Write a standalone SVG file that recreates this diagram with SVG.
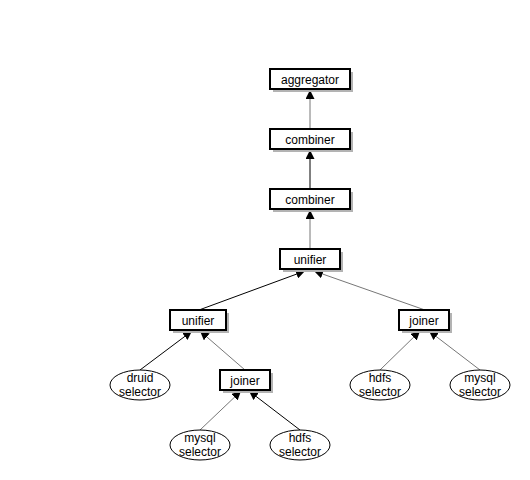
<svg xmlns="http://www.w3.org/2000/svg" width="530" height="480" viewBox="0 0 530 480">
<style>
.box{fill:#fff;stroke:#000;stroke-width:2}
.sh{fill:#b3b3b3}
.ell{fill:#fff;stroke:#000;stroke-width:1}
text{font-family:"Liberation Sans",Arial,sans-serif;font-size:12px;fill:#000;text-anchor:middle}
.e{fill:none;stroke-width:1}
.k{stroke:#000}
.g{stroke:#777}
</style>
<defs>
<marker id="ah" viewBox="0 0 10 10" refX="10" refY="5" markerWidth="9" markerHeight="9" markerUnits="userSpaceOnUse" orient="auto">
<path d="M0,0 L10,5 L0,10 z" fill="#000"/>
</marker>
</defs>
<rect width="530" height="480" fill="#fff"/>
<g id="connectors">
<line class="e g" x1="310" y1="129" x2="310" y2="90" marker-end="url(#ah)"/>
<line class="e k" x1="310" y1="189" x2="310" y2="150" marker-end="url(#ah)"/>
<line class="e g" x1="310" y1="249" x2="310" y2="210" marker-end="url(#ah)"/>
<line class="e k" x1="199" y1="310" x2="305" y2="271" marker-end="url(#ah)"/>
<line class="e g" x1="425" y1="310" x2="314" y2="271" marker-end="url(#ah)"/>
<line class="e k" x1="140" y1="370" x2="192" y2="331" marker-end="url(#ah)"/>
<line class="e g" x1="245" y1="370" x2="200" y2="331" marker-end="url(#ah)"/>
<line class="e g" x1="200" y1="430" x2="241" y2="391" marker-end="url(#ah)"/>
<line class="e k" x1="300" y1="430" x2="249" y2="391" marker-end="url(#ah)"/>
<line class="e g" x1="380" y1="370" x2="420" y2="331" marker-end="url(#ah)"/>
<line class="e g" x1="480" y1="370" x2="429" y2="331" marker-end="url(#ah)"/>
</g>
<g id="aggregator"><rect class="sh" x="273" y="72" width="80" height="20"/><rect class="box" x="270" y="69" width="80" height="20"/><text x="310" y="83.5">aggregator</text></g>
<g id="combiner1"><rect class="sh" x="273" y="132" width="80" height="20"/><rect class="box" x="270" y="129" width="80" height="20"/><text x="310" y="143.5">combiner</text></g>
<g id="combiner2"><rect class="sh" x="273" y="192" width="80" height="20"/><rect class="box" x="270" y="189" width="80" height="20"/><text x="310" y="203.5">combiner</text></g>
<g id="unifier-top"><rect class="sh" x="283" y="252" width="60" height="20"/><rect class="box" x="280" y="249" width="60" height="20"/><text x="310" y="263.5">unifier</text></g>
<g id="unifier-left"><rect class="sh" x="173" y="313" width="56" height="20"/><rect class="box" x="170" y="310" width="56" height="20"/><text x="198" y="324.5">unifier</text></g>
<g id="joiner-right"><rect class="sh" x="402" y="313" width="50" height="20"/><rect class="box" x="399" y="310" width="50" height="20"/><text x="424" y="324.5">joiner</text></g>
<g id="joiner-mid"><rect class="sh" x="223" y="373" width="50" height="20"/><rect class="box" x="220" y="370" width="50" height="20"/><text x="245" y="384.5">joiner</text></g>
<g id="druid-selector"><ellipse class="ell" cx="140" cy="385" rx="30" ry="15"/><text x="140" y="382">druid</text><text x="140" y="396">selector</text></g>
<g id="hdfs-selector-right"><ellipse class="ell" cx="380" cy="385" rx="30" ry="15"/><text x="380" y="382">hdfs</text><text x="380" y="396">selector</text></g>
<g id="mysql-selector-right"><ellipse class="ell" cx="480" cy="385" rx="30" ry="15"/><text x="480" y="382">mysql</text><text x="480" y="396">selector</text></g>
<g id="mysql-selector-bottom"><ellipse class="ell" cx="200" cy="445" rx="30" ry="15"/><text x="200" y="442">mysql</text><text x="200" y="456">selector</text></g>
<g id="hdfs-selector-bottom"><ellipse class="ell" cx="300" cy="445" rx="30" ry="15"/><text x="300" y="442">hdfs</text><text x="300" y="456">selector</text></g>
</svg>
